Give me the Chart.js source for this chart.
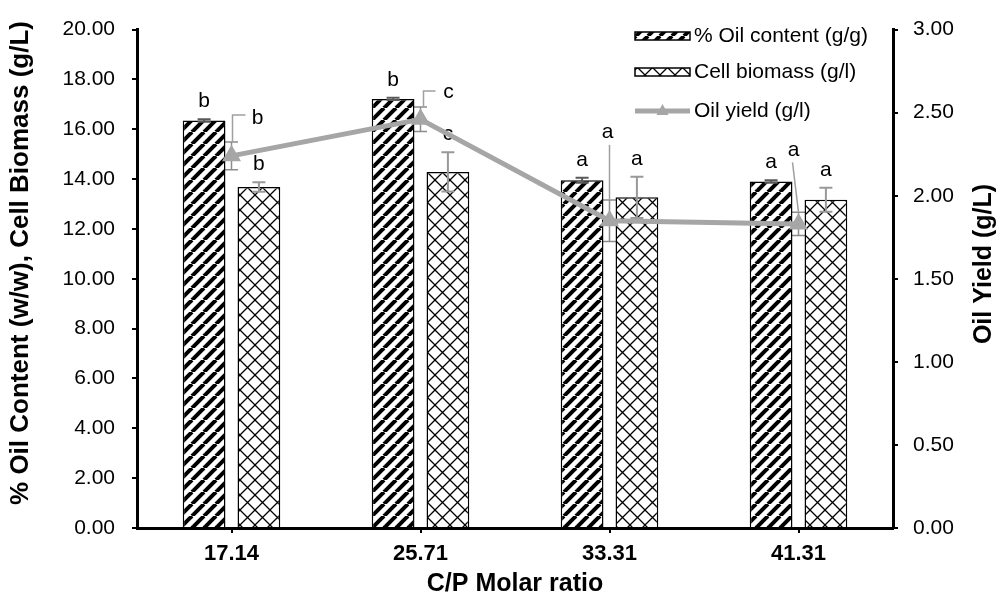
<!DOCTYPE html>
<html>
<head>
<meta charset="utf-8">
<script src="https://cdn.jsdelivr.net/npm/chart.js@4.4.0/dist/chart.umd.min.js"></script>
<style>
html, body { margin: 0; padding: 0; background: #fff; }
</style>
</head>
<body>
<canvas id="graf_cp" width="999" height="604"></canvas>
<script>
// datos
const categorias = ['17.14', '25.71', '33.31', '41.31'];
const oilContent = [16.35, 17.22, 13.95, 13.90];
const oilContentErr = [0.05, 0.05, 0.10, 0.05];
const cellBiomass = [13.68, 14.29, 13.27, 13.17];
const cellBiomassErr = [0.19, 0.79, 0.83, 0.48];
const oilYield = [2.24, 2.46, 1.85, 1.83];
const oilYieldErr = [0.083, 0.074, 0.125, 0.07];
const letrasOil = ['b', 'b', 'a', 'a'];
const letrasBiomass = ['b', 'c', 'a', 'a'];
const letrasYield = ['b', 'c', 'a', 'a'];

const FUENTE = 'Arial, "Liberation Sans", sans-serif';
const GRIS = '#a6a6a6';

const ctx = document.getElementById('graf_cp').getContext('2d');

function patronRayas() {
    const n = 12;
    const c = document.createElement('canvas');
    c.width = n; c.height = n;
    const g = c.getContext('2d');
    g.fillStyle = '#fff';
    g.fillRect(0, 0, n, n);
    g.strokeStyle = '#000';
    g.lineWidth = 4;
    for (let k = -1; k <= 1; k++) {
        g.beginPath();
        g.moveTo(k * n, n);
        g.lineTo(k * n + n, 0);
        g.stroke();
    }
    return ctx.createPattern(c, 'repeat');
}

function patronCruz() {
    const n = 15;
    const c = document.createElement('canvas');
    c.width = n; c.height = n;
    const g = c.getContext('2d');
    g.fillStyle = '#fff';
    g.fillRect(0, 0, n, n);
    g.strokeStyle = '#000';
    g.lineWidth = 1.3;
    for (let k = -1; k <= 1; k++) {
        g.beginPath();
        g.moveTo(k * n, n);
        g.lineTo(k * n + n, 0);
        g.moveTo(k * n, 0);
        g.lineTo(k * n + n, n);
        g.stroke();
    }
    return ctx.createPattern(c, 'repeat');
}

const rayas = patronRayas();
const cruz = patronCruz();

// leaders of the oil yield letters (offsets from top of error bar)
const guiasYield = [
    {dx: 26, dy: -18, pts: [[1, 0], [1, -27], [14, -27]]},
    {dx: 28, dy: -9, pts: [[3, 0], [3, -16], [15, -16]]},
    {dx: -2, dy: -62, pts: [[0, 0], [0, -55]]},
    {dx: -5, dy: -56, pts: [[0, 0], [-6, -50]]}
];

function errorBar(c, x, yTop, yBot, cap, color, w) {
    c.save();
    c.strokeStyle = color;
    c.lineWidth = w;
    c.beginPath();
    c.moveTo(x, yTop); c.lineTo(x, yBot);
    c.moveTo(x - cap, yTop); c.lineTo(x + cap, yTop);
    c.moveTo(x - cap, yBot); c.lineTo(x + cap, yBot);
    c.stroke();
    c.restore();
}

const extras = {
    id: 'extras',
    beforeDatasetsDraw(chart) {
        const c = chart.ctx;
        const meta = chart.getDatasetMeta(2);
        const s = chart.scales.y2;
        meta.data.forEach((p, i) => {
            errorBar(c, p.x, s.getPixelForValue(oilYield[i] + oilYieldErr[i]),
                s.getPixelForValue(oilYield[i] - oilYieldErr[i]), 6.5, '#8c8c8c', 1.5);
        });
    },
    afterDatasetDraw(chart, args) {
        if (args.index > 1) return;
        const c = chart.ctx;
        const s = chart.scales.y;
        const vals = args.index === 0 ? oilContent : cellBiomass;
        const errs = args.index === 0 ? oilContentErr : cellBiomassErr;
        const letras = args.index === 0 ? letrasOil : letrasBiomass;
        const color = args.index === 0 ? '#595959' : '#999999';
        args.meta.data.forEach((b, i) => {
            const yt = s.getPixelForValue(vals[i] + errs[i]);
            errorBar(c, b.x, yt, s.getPixelForValue(vals[i] - errs[i]), 6.5, color, 2);
            c.save();
            c.fillStyle = '#000';
            c.font = '21px ' + FUENTE;
            c.textAlign = 'center';
            c.textBaseline = 'alphabetic';
            c.fillText(letras[i], b.x, yt - 12);
            c.restore();
        });
    },
    afterDatasetsDraw(chart) {
        const c = chart.ctx;
        const meta = chart.getDatasetMeta(2);
        const s = chart.scales.y2;
        meta.data.forEach((p, i) => {
            const yt = s.getPixelForValue(oilYield[i] + oilYieldErr[i]);
            const g = guiasYield[i];
            c.save();
            c.strokeStyle = '#a0a0a0';
            c.lineWidth = 1.5;
            c.beginPath();
            g.pts.forEach((q, k) => {
                if (k === 0) c.moveTo(p.x + q[0], yt + q[1]);
                else c.lineTo(p.x + q[0], yt + q[1]);
            });
            c.stroke();
            c.fillStyle = '#000';
            c.font = '21px ' + FUENTE;
            c.textAlign = 'center';
            c.fillText(letrasYield[i], p.x + g.dx, yt + g.dy);
            c.restore();
        });
    },
    afterDraw(chart) {
        const c = chart.ctx;
        c.save();
        // titulos de los ejes y
        c.fillStyle = '#000';
        c.font = 'bold 26px ' + FUENTE;
        c.textAlign = 'center';
        c.textBaseline = 'middle';
        c.translate(21, 263);
        c.rotate(-Math.PI / 2);
        c.fillText('% Oil Content (w/w), Cell Biomass (g/L)', 0, 0);
        c.restore();
        c.save();
        c.fillStyle = '#000';
        c.font = 'bold 25px ' + FUENTE;
        c.textAlign = 'center';
        c.textBaseline = 'middle';
        c.translate(984, 264);
        c.rotate(-Math.PI / 2);
        c.fillText('Oil Yield (g/L)', 0, 0);
        c.restore();

        // leyenda
        const lx = 635, lw = 55;
        const items = chart.data.datasets;
        c.save();
        c.font = '21px ' + FUENTE;
        c.textBaseline = 'middle';
        [[0, 36], [1, 72]].forEach(([d, y]) => {
            c.fillStyle = items[d].backgroundColor;
            c.fillRect(lx, y - 4, lw, 8);
            c.strokeStyle = '#000';
            c.lineWidth = 1.5;
            c.strokeRect(lx, y - 4, lw, 8);
            c.fillStyle = '#000';
            c.fillText(items[d].label, lx + lw + 4, y);
        });
        const y3 = 111;
        c.strokeStyle = GRIS;
        c.lineWidth = 5;
        c.beginPath();
        c.moveTo(lx, y3); c.lineTo(lx + lw, y3);
        c.stroke();
        c.fillStyle = GRIS;
        c.beginPath();
        c.moveTo(lx + lw / 2, y3 - 7);
        c.lineTo(lx + lw / 2 + 6, y3 + 4);
        c.lineTo(lx + lw / 2 - 6, y3 + 4);
        c.closePath();
        c.fill();
        c.fillStyle = '#000';
        c.fillText(items[2].label, lx + lw + 4, y3);
        c.restore();
    }
};

const graf_cp = new Chart(ctx, {
    type: 'bar',
    data: {
        labels: categorias,
        datasets: [{
            label: '% Oil content (g/g)',
            data: oilContent,
            backgroundColor: rayas,
            borderColor: '#000',
            borderWidth: 1.5,
            yAxisID: 'y',
            order: 1,
            categoryPercentage: 0.58,
            barPercentage: 0.78
        }, {
            label: 'Cell biomass (g/l)',
            data: cellBiomass,
            backgroundColor: cruz,
            borderColor: '#000',
            borderWidth: 1.5,
            yAxisID: 'y',
            order: 2,
            categoryPercentage: 0.58,
            barPercentage: 0.78
        }, {
            type: 'line',
            label: 'Oil yield (g/l)',
            data: oilYield,
            borderColor: GRIS,
            backgroundColor: GRIS,
            borderWidth: 5,
            pointStyle: 'triangle',
            pointRadius: 6,
            pointBackgroundColor: GRIS,
            pointBorderColor: GRIS,
            yAxisID: 'y2',
            order: 0,
            tension: 0
        }]
    },
    options: {
        responsive: false,
        animation: false,
        layout: { padding: { top: 23, left: 0, right: 0, bottom: 0 } },
        plugins: {
            legend: { display: false },
            tooltip: { enabled: false }
        },
        scales: {
            x: {
                offset: true,
                grid: { display: true, drawOnChartArea: false, offset: false, tickLength: 5, color: '#000', lineWidth: 2 },
                border: { display: true, color: '#000', width: 3 },
                ticks: { color: '#000', font: { family: FUENTE, size: 22, weight: 'bold' }, padding: 8 },
                title: { display: true, text: 'C/P Molar ratio', color: '#000', font: { family: FUENTE, size: 25, weight: 'bold' }, padding: { top: 0, bottom: 5 } },
                afterFit(s) { s.height = 76; }
            },
            y: {
                position: 'left',
                min: 0,
                max: 20,
                grid: { display: true, drawOnChartArea: false, tickLength: 5, color: '#000', lineWidth: 2 },
                border: { display: true, color: '#000', width: 3 },
                ticks: { stepSize: 2, color: '#000', font: { family: FUENTE, size: 21 }, padding: 17,
                    callback: v => v.toFixed(2) },
                afterFit(s) { s.width = 137; }
            },
            y2: {
                position: 'right',
                min: 0,
                max: 3,
                grid: { display: true, drawOnChartArea: false, tickLength: 5, color: '#000', lineWidth: 2 },
                border: { display: true, color: '#000', width: 3 },
                ticks: { stepSize: 0.5, color: '#000', font: { family: FUENTE, size: 21 }, padding: 15,
                    callback: v => v.toFixed(2) },
                afterFit(s) { s.width = 106; }
            }
        }
    },
    plugins: [extras]
});
</script>
</body>
</html>
